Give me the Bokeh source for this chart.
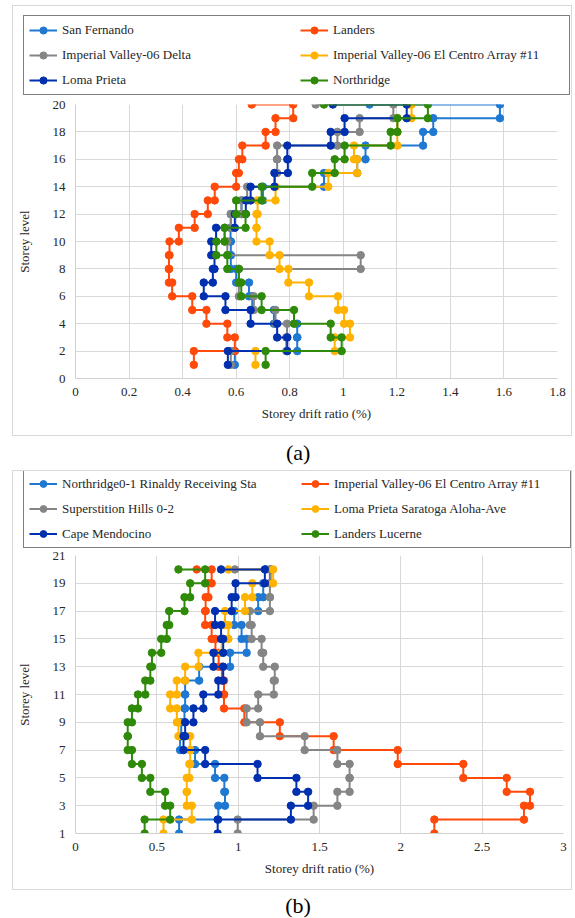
from bokeh.plotting import figure
from bokeh.models import Legend, LegendItem, FixedTicker, NumeralTickFormatter, ColumnDataSource, Range1d
from bokeh.layouts import column
from bokeh.embed import file_html
from bokeh.resources import INLINE
from bokeh.core.properties import value

levels = list(range(1, 21))

# ---------------- chart (a) ----------------
a_names = ["San Fernando", "Landers", "Imperial Valley-06 Delta",
           "Imperial Valley-06 El Centro Array #11", "Loma Prieta", "Northridge"]
a_san_fernando = [0.595, 0.828, 0.828, 0.741, 0.660, 0.648, 0.600, 0.580, 0.580, 0.579,
                  0.580, 0.620, 0.700, 0.928, 1.052, 1.083, 1.298, 1.336, 1.585, 1.098]
a_landers = [0.442, 0.595, 0.567, 0.489, 0.436, 0.361, 0.349, 0.349, 0.351, 0.386,
             0.445, 0.494, 0.520, 0.600, 0.610, 0.623, 0.710, 0.747, 0.813, 0.658]
a_delta = [0.580, 0.787, 0.790, 0.747, 0.666, 0.610, 0.610, 1.065, 0.567, 0.557,
           0.580, 0.620, 0.641, 0.745, 0.753, 0.753, 0.978, 1.061, 1.187, 0.897]
a_el_centro = [0.672, 0.968, 1.025, 1.003, 0.980, 0.872, 0.795, 0.762, 0.725, 0.676,
               0.676, 0.680, 0.747, 0.944, 1.052, 1.040, 1.202, 1.202, 1.255, 1.245]
a_loma_prieta = [0.569, 0.791, 0.753, 0.654, 0.560, 0.479, 0.513, 0.519, 0.507, 0.525,
                 0.595, 0.636, 0.654, 0.743, 0.793, 0.791, 0.953, 1.005, 1.237, 0.961]
a_northridge = [0.710, 0.994, 0.953, 0.816, 0.695, 0.619, 0.610, 0.567, 0.526, 0.557,
                0.635, 0.600, 0.695, 0.884, 0.968, 1.005, 1.177, 1.202, 1.316, 0.928]
a_series = [a_san_fernando, a_landers, a_delta, a_el_centro, a_loma_prieta, a_northridge]
a_x_ticks = [0, 0.2, 0.4, 0.6, 0.8, 1.0, 1.2, 1.4, 1.6, 1.8]
a_y_ticks = [0, 2, 4, 6, 8, 10, 12, 14, 16, 18, 20]

# ---------------- chart (b) ----------------
b_names = ["Northridge0-1 Rinaldy Receiving Sta", "Imperial Valley-06 El Centro Array #11",
           "Superstition Hills 0-2", "Loma Prieta Saratoga Aloha-Ave",
           "Cape Mendocino", "Landers Lucerne"]
b_rinaldy = [0.637, 0.878, 0.919, 0.915, 0.858, 0.735, 0.643, 0.650, 0.670, 0.674,
             0.674, 0.760, 0.950, 1.052, 1.021, 0.976, 1.123, 1.154, 1.195, 1.170]
b_el_centro = [2.206, 2.757, 2.794, 2.651, 2.384, 1.981, 1.587, 1.256, 1.038, 0.913,
               0.913, 0.900, 0.880, 0.860, 0.837, 0.797, 0.800, 0.817, 0.837, 0.745]
b_superstition = [0.997, 1.464, 1.610, 1.685, 1.685, 1.610, 1.409, 1.134, 1.052, 1.123,
                  1.219, 1.225, 1.154, 1.144, 1.083, 1.072, 1.195, 1.195, 1.200, 0.980]
b_saratoga = [0.541, 0.715, 0.684, 0.684, 0.700, 0.705, 0.705, 0.633, 0.623, 0.582,
              0.623, 0.674, 0.756, 0.899, 0.940, 0.919, 1.042, 1.087, 1.215, 0.940]
b_cape = [0.874, 1.324, 1.430, 1.358, 1.119, 0.797, 0.664, 0.674, 0.725, 0.786,
          0.878, 0.908, 0.848, 0.908, 0.895, 0.858, 0.960, 0.984, 1.164, 0.895]
b_lucerne = [0.425, 0.582, 0.551, 0.460, 0.408, 0.347, 0.321, 0.321, 0.347, 0.384,
             0.429, 0.460, 0.470, 0.527, 0.561, 0.576, 0.670, 0.705, 0.797, 0.633]
b_series = [b_rinaldy, b_el_centro, b_superstition, b_saratoga, b_cape, b_lucerne]
b_x_ticks = [0, 0.5, 1.0, 1.5, 2.0, 2.5, 3.0]
b_y_ticks = [1, 3, 5, 7, 9, 11, 13, 15, 17, 19, 21]

colors = ["#1f78d1", "#ff4a0a", "#858585", "#ffb300", "#0030b0", "#2f8a0a"]
FONT = "Liberation Serif"
LINE_W = 2
MARK = 7.5


def steps(vals):
    xs, ys = [], []
    for i, v in enumerate(vals):
        xs.append(v)
        ys.append(levels[i])
        if i < len(vals) - 1:
            xs.append(v)
            ys.append(levels[i + 1])
    return xs, ys


def make_chart(series, x_end, x_ticks, y_start, y_end, y_ticks,
               width, height, bl, br, bt, bb):
    p = figure(width=width, height=height,
               x_range=Range1d(0, x_end), y_range=Range1d(y_start, y_end),
               output_backend="svg", toolbar_location=None,
               min_border_left=bl, min_border_right=br,
               min_border_top=bt, min_border_bottom=bb)
    p.border_fill_alpha = 0
    p.outline_line_color = None
    for ax in (p.xaxis[0], p.yaxis[0]):
        ax.axis_line_color = "#d0d0d0"
        ax.major_tick_line_color = None
        ax.minor_tick_line_color = None
        ax.major_tick_out = 0
        ax.major_tick_in = 0
        ax.minor_tick_out = 0
        ax.minor_tick_in = 0
        ax.major_label_text_font = FONT
        ax.major_label_text_font_size = "13px"
        ax.major_label_text_color = "#262626"
        ax.axis_label_text_font = FONT
        ax.axis_label_text_font_size = "13px"
        ax.axis_label_text_font_style = "normal"
        ax.axis_label_text_color = "#262626"
    p.xaxis.ticker = FixedTicker(ticks=x_ticks)
    p.yaxis.ticker = FixedTicker(ticks=y_ticks)
    p.xaxis.formatter = NumeralTickFormatter(format="0.[0]")
    p.yaxis.formatter = NumeralTickFormatter(format="0")
    p.xaxis.axis_label = "Storey drift ratio (%)"
    p.yaxis.axis_label = "Storey level"
    p.xaxis.major_label_standoff = 9
    p.xaxis.axis_label_standoff = 7
    p.yaxis.major_label_standoff = 10
    p.yaxis.axis_label_standoff = 18
    p.grid.grid_line_color = "#d9d9d9"
    p.grid.grid_line_width = 1

    for vals, col in zip(series, colors):
        xs, ys = steps(vals)
        src = ColumnDataSource(dict(x=xs, y=ys))
        p.line("x", "y", source=src, line_color=col, line_width=LINE_W)
        p.scatter("x", "y", source=src, size=MARK, fill_color=col, line_color=col)
    return p


def make_legend(names, width, height, loc, leg_h, leg_sp, label_w):
    lf = figure(width=width, height=height, x_range=Range1d(0, 1), y_range=Range1d(0, 1),
                output_backend="svg", toolbar_location=None, min_border=0,
                x_axis_location=None, y_axis_location=None)
    lf.outline_line_color = None
    lf.grid.visible = False
    items = []
    for name, col in zip(names, colors):
        src = ColumnDataSource(dict(x=[-10.0], y=[-10.0]))
        lr = lf.line("x", "y", source=src, line_color=col, line_width=LINE_W)
        sr = lf.scatter("x", "y", source=src, size=MARK, fill_color=col, line_color=col)
        items.append(LegendItem(label=name, renderers=[lr, sr]))
    legend = Legend(items=items, location=loc, orientation="horizontal", ncols=2,
                    label_text_font=FONT, label_text_font_size="13px",
                    label_text_color="#262626",
                    glyph_width=28, glyph_height=leg_h, label_height=leg_h,
                    label_width=label_w, label_standoff=5, spacing=leg_sp,
                    padding=5, margin=0,
                    border_line_color="black", border_line_width=1,
                    background_fill_color="white", background_fill_alpha=1)
    lf.add_layout(legend)
    # own column so its frame is not aligned with the chart frame below
    return column(lf, spacing=0)


def caption(txt, h, from_top):
    c = figure(width=560, height=h, x_range=Range1d(0, 1), y_range=Range1d(0, h),
               output_backend="svg", toolbar_location=None, min_border=0,
               x_axis_location=None, y_axis_location=None)
    c.outline_line_color = None
    c.grid.visible = False
    c.text(x=[0.51], y=[h - from_top], text=[txt], text_align="center",
           text_baseline="middle", text_font=value(FONT), text_font_size="22px",
           text_color="black")
    return c


BOX = {"border": "1px solid #d9d9d9"}

leg_a = make_legend(a_names, 558, 91, (10, 2), 18, 7, 231)
fig_a = make_chart(a_series, 1.8, a_x_ticks, 0, 20, a_y_ticks,
                   558, 338, 60, 14, 7, 57)
block_a = column(leg_a, fig_a, spacing=0, styles=BOX)
cap_a = caption("(a)", 34, 16)

leg_b = make_legend(b_names, 558, 78, (10, 1), 17, 8, 231)
fig_b = make_chart(b_series, 3.0, b_x_ticks, 1, 21, b_y_ticks,
                   558, 340, 60, 8, 6, 56)
block_b = column(leg_b, fig_b, spacing=0, styles=BOX)
cap_b = caption("(b)", 28, 15)

page = column(block_a, cap_a, block_b, cap_b, margin=(5, 0, 0, 12), spacing=0)

open("out.html", "w").write(file_html(page, INLINE))
